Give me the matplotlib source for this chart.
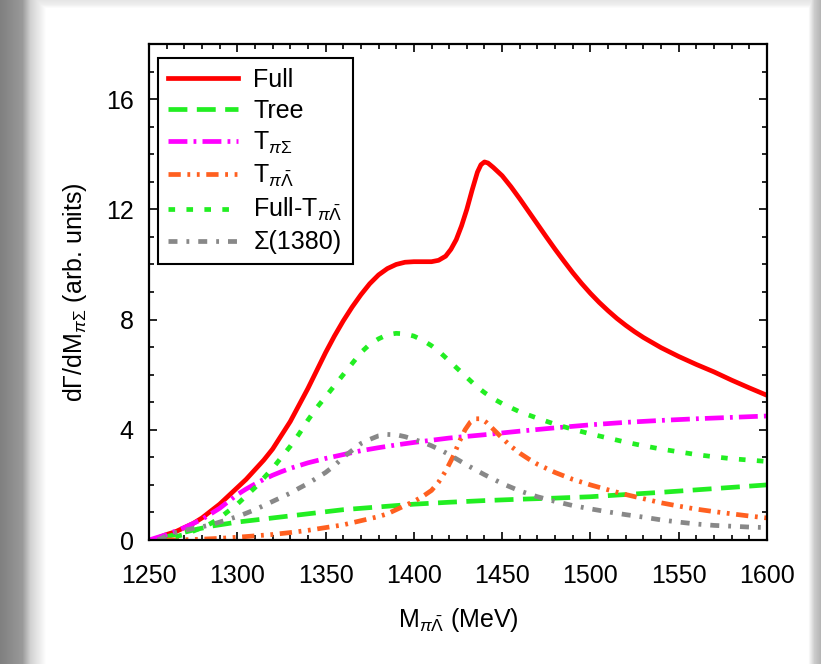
import numpy as np
import matplotlib.pyplot as plt
from matplotlib.ticker import MultipleLocator

plt.rcParams['font.family'] = ['Liberation Sans', 'DejaVu Sans']
plt.rcParams['mathtext.fontset'] = 'custom'
plt.rcParams['mathtext.rm'] = 'Liberation Sans'
plt.rcParams['mathtext.it'] = 'Liberation Sans:italic'
plt.rcParams['mathtext.bf'] = 'Liberation Sans:bold'

# Full
x_full = [1252, 1256, 1260, 1265, 1270, 1275, 1280, 1285, 1290, 1295, 1300, 1305,
          1310, 1315, 1320, 1325, 1330, 1335, 1340, 1345, 1350, 1355, 1360, 1365,
          1370, 1375, 1380, 1385, 1390, 1395, 1400, 1405, 1410, 1414, 1418, 1421,
          1424, 1427, 1430, 1433, 1436, 1438, 1440, 1442, 1445, 1450, 1455, 1460,
          1465, 1470, 1475, 1480, 1485, 1490, 1495, 1500, 1505, 1510, 1515, 1520,
          1525, 1530, 1540, 1550, 1560, 1570, 1580, 1590, 1600]
y_full = [0, 0.1, 0.2, 0.3, 0.45, 0.6, 0.8, 1.05, 1.3, 1.6, 1.9, 2.2,
          2.55, 2.9, 3.3, 3.8, 4.3, 4.9, 5.5, 6.15, 6.8, 7.4, 7.95, 8.45,
          8.9, 9.3, 9.62, 9.85, 10.0, 10.08, 10.1, 10.1, 10.1, 10.15, 10.3, 10.55,
          10.9, 11.4, 12.0, 12.7, 13.35, 13.62, 13.72, 13.68, 13.52, 13.22, 12.82, 12.38,
          11.92, 11.46, 11.0, 10.55, 10.12, 9.7, 9.31, 8.95, 8.62, 8.32, 8.04, 7.79,
          7.56, 7.35, 6.98, 6.66, 6.37, 6.1, 5.8, 5.52, 5.25]

# Tree
x_tree = [1255, 1260, 1265, 1270, 1275, 1280, 1285, 1290, 1300, 1320, 1340, 1360,
          1380, 1400, 1420, 1440, 1460, 1480, 1500, 1520, 1540, 1560, 1580, 1600]
y_tree = [0, 0.12, 0.2, 0.28, 0.36, 0.43, 0.5, 0.55, 0.65, 0.8, 0.95, 1.1,
          1.2, 1.3, 1.37, 1.43, 1.48, 1.52, 1.57, 1.65, 1.73, 1.82, 1.91, 2.0]

# T_piSigma
x_tps = [1250, 1255, 1260, 1265, 1270, 1275, 1280, 1285, 1290, 1295, 1300, 1305,
         1310, 1315, 1320, 1325, 1330, 1335, 1340, 1345, 1350, 1360, 1370, 1380,
         1390, 1400, 1420, 1440, 1460, 1480, 1500, 1520, 1540, 1560, 1580, 1600]
y_tps = [0, 0.1, 0.2, 0.32, 0.45, 0.6, 0.75, 0.95, 1.15, 1.4, 1.65, 1.85,
         2.03, 2.2, 2.35, 2.48, 2.6, 2.7, 2.8, 2.88, 2.96, 3.1, 3.24, 3.35,
         3.45, 3.54, 3.7, 3.82, 3.95, 4.07, 4.18, 4.27, 4.34, 4.4, 4.45, 4.5]

# T_piLambdabar
x_tpl = [1260, 1270, 1280, 1290, 1300, 1310, 1320, 1330, 1340, 1350, 1360, 1370,
         1380, 1385, 1390, 1395, 1400, 1405, 1410, 1414, 1418, 1422, 1426, 1429,
         1432, 1435, 1438, 1441, 1445, 1450, 1455, 1460, 1465, 1470, 1480, 1490,
         1500, 1510, 1520, 1530, 1540, 1550, 1560, 1570, 1580, 1590, 1600]
y_tpl = [0, 0.01, 0.03, 0.06, 0.1, 0.15, 0.2, 0.27, 0.35, 0.45, 0.55, 0.7,
         0.85, 0.95, 1.1, 1.25, 1.4, 1.58, 1.8, 2.1, 2.5, 3.0, 3.6, 4.0,
         4.28, 4.4, 4.4, 4.27, 4.02, 3.7, 3.4, 3.15, 2.94, 2.75, 2.45, 2.2,
         2.0, 1.82, 1.65, 1.5, 1.35, 1.23, 1.12, 1.03, 0.95, 0.87, 0.8]

# Full - T_piLambdabar
x_fmt = [1255, 1265, 1270, 1275, 1280, 1285, 1290, 1295, 1300, 1305, 1310, 1315,
         1320, 1325, 1330, 1335, 1340, 1345, 1350, 1355, 1360, 1365, 1370, 1375,
         1380, 1385, 1390, 1395, 1400, 1405, 1410, 1415, 1420, 1425, 1430, 1435,
         1440, 1445, 1450, 1455, 1460, 1470, 1480, 1490, 1500, 1510, 1520, 1530,
         1540, 1550, 1560, 1570, 1580, 1590, 1600]
y_fmt = [0, 0.12, 0.2, 0.32, 0.45, 0.6, 0.8, 1.05, 1.3, 1.6, 1.9, 2.25,
         2.6, 3.0, 3.4, 3.85, 4.35, 4.8, 5.2, 5.6, 6.0, 6.4, 6.8, 7.1,
         7.3, 7.45, 7.5, 7.48, 7.4, 7.25, 7.05, 6.8, 6.5, 6.2, 5.9, 5.6,
         5.35, 5.13, 4.95, 4.8, 4.65, 4.42, 4.2, 4.02, 3.85, 3.7, 3.55, 3.42,
         3.3, 3.2, 3.1, 3.02, 2.95, 2.9, 2.85]

# Sigma(1380)
x_sig = [1255, 1260, 1265, 1270, 1275, 1280, 1285, 1290, 1295, 1300, 1305, 1310,
         1315, 1320, 1325, 1330, 1335, 1340, 1345, 1350, 1355, 1360, 1365, 1370,
         1375, 1380, 1385, 1390, 1395, 1400, 1405, 1410, 1415, 1420, 1430, 1440,
         1450, 1460, 1470, 1480, 1490, 1500, 1510, 1520, 1530, 1540, 1550, 1560,
         1570, 1580, 1590, 1600]
y_sig = [0, 0.15, 0.27, 0.35, 0.42, 0.48, 0.55, 0.65, 0.75, 0.85, 0.97, 1.1,
         1.25, 1.4, 1.55, 1.7, 1.88, 2.05, 2.25, 2.45, 2.7, 3.0, 3.25, 3.5,
         3.65, 3.78, 3.83, 3.82, 3.75, 3.65, 3.55, 3.42, 3.27, 3.1, 2.72, 2.37,
         2.05, 1.78, 1.57, 1.4, 1.25, 1.13, 1.02, 0.92, 0.83, 0.73, 0.65, 0.58,
         0.53, 0.5, 0.47, 0.45]

fig = plt.figure(figsize=(8.21, 6.64), dpi=100)

# grey frame shading around the white plate
h, w = 664, 821
cols = np.arange(w)
rows = np.arange(h)
left = np.interp(cols, [0, 22, 30, 46], [0.5, 0.6, 0.82, 1.0])
right = np.interp(cols, [808, 814, 821], [1.0, 0.8, 0.7])
top = np.interp(rows, [0, 4, 8], [0.9, 0.93, 1.0])
img = np.minimum(np.minimum(left, right)[None, :], top[:, None])
bg = fig.add_axes([0, 0, 1, 1], zorder=-1)
bg.imshow(img, cmap='gray', vmin=0, vmax=1, aspect='auto')
bg.axis('off')

ax = fig.add_axes([149 / 821, 1 - 540 / 664, 618 / 821, 496 / 664])
lw = 3.4
ax.plot(x_full, y_full, color='#ff0000', lw=lw, label='Full')
ax.plot(x_tree, y_tree, color='#22ee22', lw=lw, dashes=(4, 2), label='Tree')
ax.plot(x_tps, y_tps, color='#ff00ff', lw=lw, dashes=(4, 1.3, 0.6, 1.3),
        label=r'T$_{\pi\Sigma}$')
ax.plot(x_tpl, y_tpl, color='#ff6020', lw=lw, dashes=(2.6, 1.4, 0.6, 1.4, 0.6, 1.4),
        label=r'T$_{\pi\bar{\Lambda}}$')
ax.plot(x_fmt, y_fmt, color='#22ee22', lw=lw, dashes=(1.4, 2.4),
        label=r'Full-T$_{\pi\bar{\Lambda}}$')
ax.plot(x_sig, y_sig, color='#888888', lw=lw, dashes=(1.9, 1.9, 0.6, 1.9),
        label='Σ(1380)')

ax.set_xlim(1250, 1600)
ax.set_ylim(0, 18)
ax.xaxis.set_major_locator(MultipleLocator(50))
ax.xaxis.set_minor_locator(MultipleLocator(10))
ax.yaxis.set_major_locator(MultipleLocator(4))
ax.yaxis.set_minor_locator(MultipleLocator(1))
ax.tick_params(which='both', direction='in', top=True, right=True, width=1.2)
ax.tick_params(which='major', length=6, labelsize=18)
ax.tick_params(axis='x', which='major', pad=17)
ax.tick_params(axis='y', which='major', pad=11)
ax.tick_params(which='minor', length=3.5)
for s in ax.spines.values():
    s.set_linewidth(1.6)

ax.set_xlabel(r'M$_{\pi\bar{\Lambda}}$ (MeV)', fontsize=18, labelpad=13)
ax.set_ylabel(r'd$\Gamma$/dM$_{\pi\Sigma}$ (arb. units)', fontsize=18, labelpad=12)

leg = ax.legend(loc='upper left', bbox_to_anchor=(0.015, 0.972), borderaxespad=0,
                fontsize=18, handlelength=2.8, handletextpad=0.6, labelspacing=0.28,
                fancybox=False, framealpha=1, edgecolor='black')
leg.get_frame().set_linewidth(1.5)

fig.savefig('out.png', dpi=100)
